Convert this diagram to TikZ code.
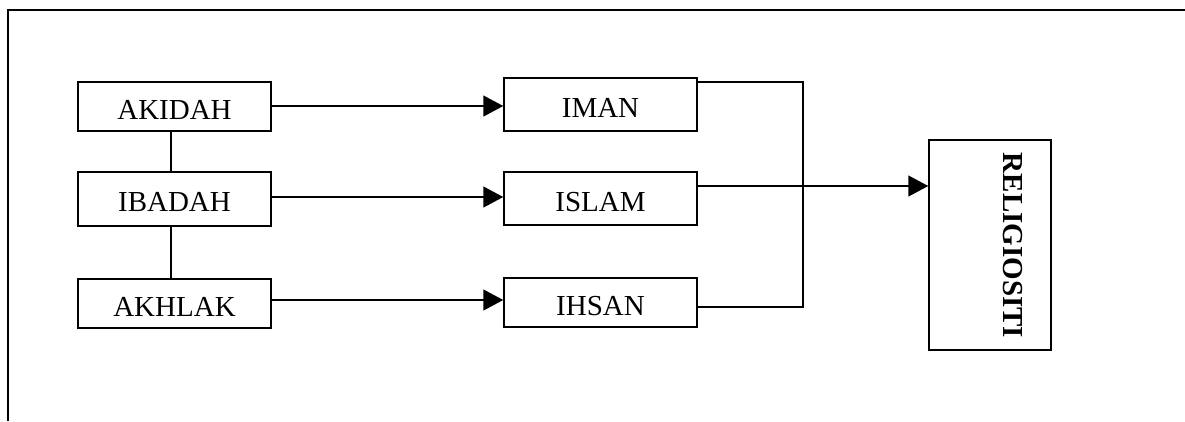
\documentclass[tikz,border=0pt]{standalone}
\usepackage{fontspec}
\setmainfont{Liberation Serif}
\usetikzlibrary{arrows.meta}
\begin{document}
\begin{tikzpicture}[x=1pt,y=-1pt,
  box/.style={draw,line width=1.5pt,minimum width=193pt,inner sep=0pt,text height=25pt,text depth=0pt,font=\fontsize{29}{30}\selectfont},
  conn/.style={line width=1.5pt},
  arr/.style={conn,-{Triangle[length=20pt,width=21pt]}}]
\useasboundingbox (0,0) rectangle (1185,421);
\draw[line width=1.6pt] (1185,10) -- (8,10) -- (8,421);
\node[box,minimum height=49pt] (akidah) at (174.5,106.5) {AKIDAH};
\node[box,minimum height=54pt] (ibadah) at (174.5,199) {IBADAH};
\node[box,minimum height=49pt] (akhlak) at (174.5,303.5) {AKHLAK};
\node[box,minimum height=53pt] (iman) at (600.5,104.5) {IMAN};
\node[box,minimum height=53pt] (islam) at (600.5,198.5) {ISLAM};
\node[box,minimum height=49pt] (ihsan) at (600.5,302.5) {IHSAN};
\node[box,minimum width=122pt,minimum height=210pt] (rel) at (990,245) {};
\node[rotate=-90,inner sep=0pt,font=\fontsize{29}{30}\selectfont\bfseries] (reltext) at (1012.5,245.5) {RELIGIOSITI};
\coordinate (v) at (171,0);
\draw[conn] (akidah.south -| v) -- (ibadah.north -| v);
\draw[conn] (ibadah.south -| v) -- (akhlak.north -| v);
\coordinate (a1) at (0,106);
\coordinate (a2) at (0,197);
\coordinate (a3) at (0,300);
\draw[arr] (akidah.east |- a1) -- (iman.west |- a1);
\draw[arr] (ibadah.east |- a2) -- (islam.west |- a2);
\draw[arr] (akhlak.east |- a3) -- (ihsan.west |- a3);
\coordinate (j1) at (803,82);
\coordinate (j2) at (803,307);
\coordinate (jm) at (803,186);
\draw[conn] (iman.east |- j1) -- (j1) -- (j2) -- (ihsan.east |- j2);
\draw[arr] (islam.east |- jm) -- (jm -| rel.west);
\end{tikzpicture}
\end{document}
